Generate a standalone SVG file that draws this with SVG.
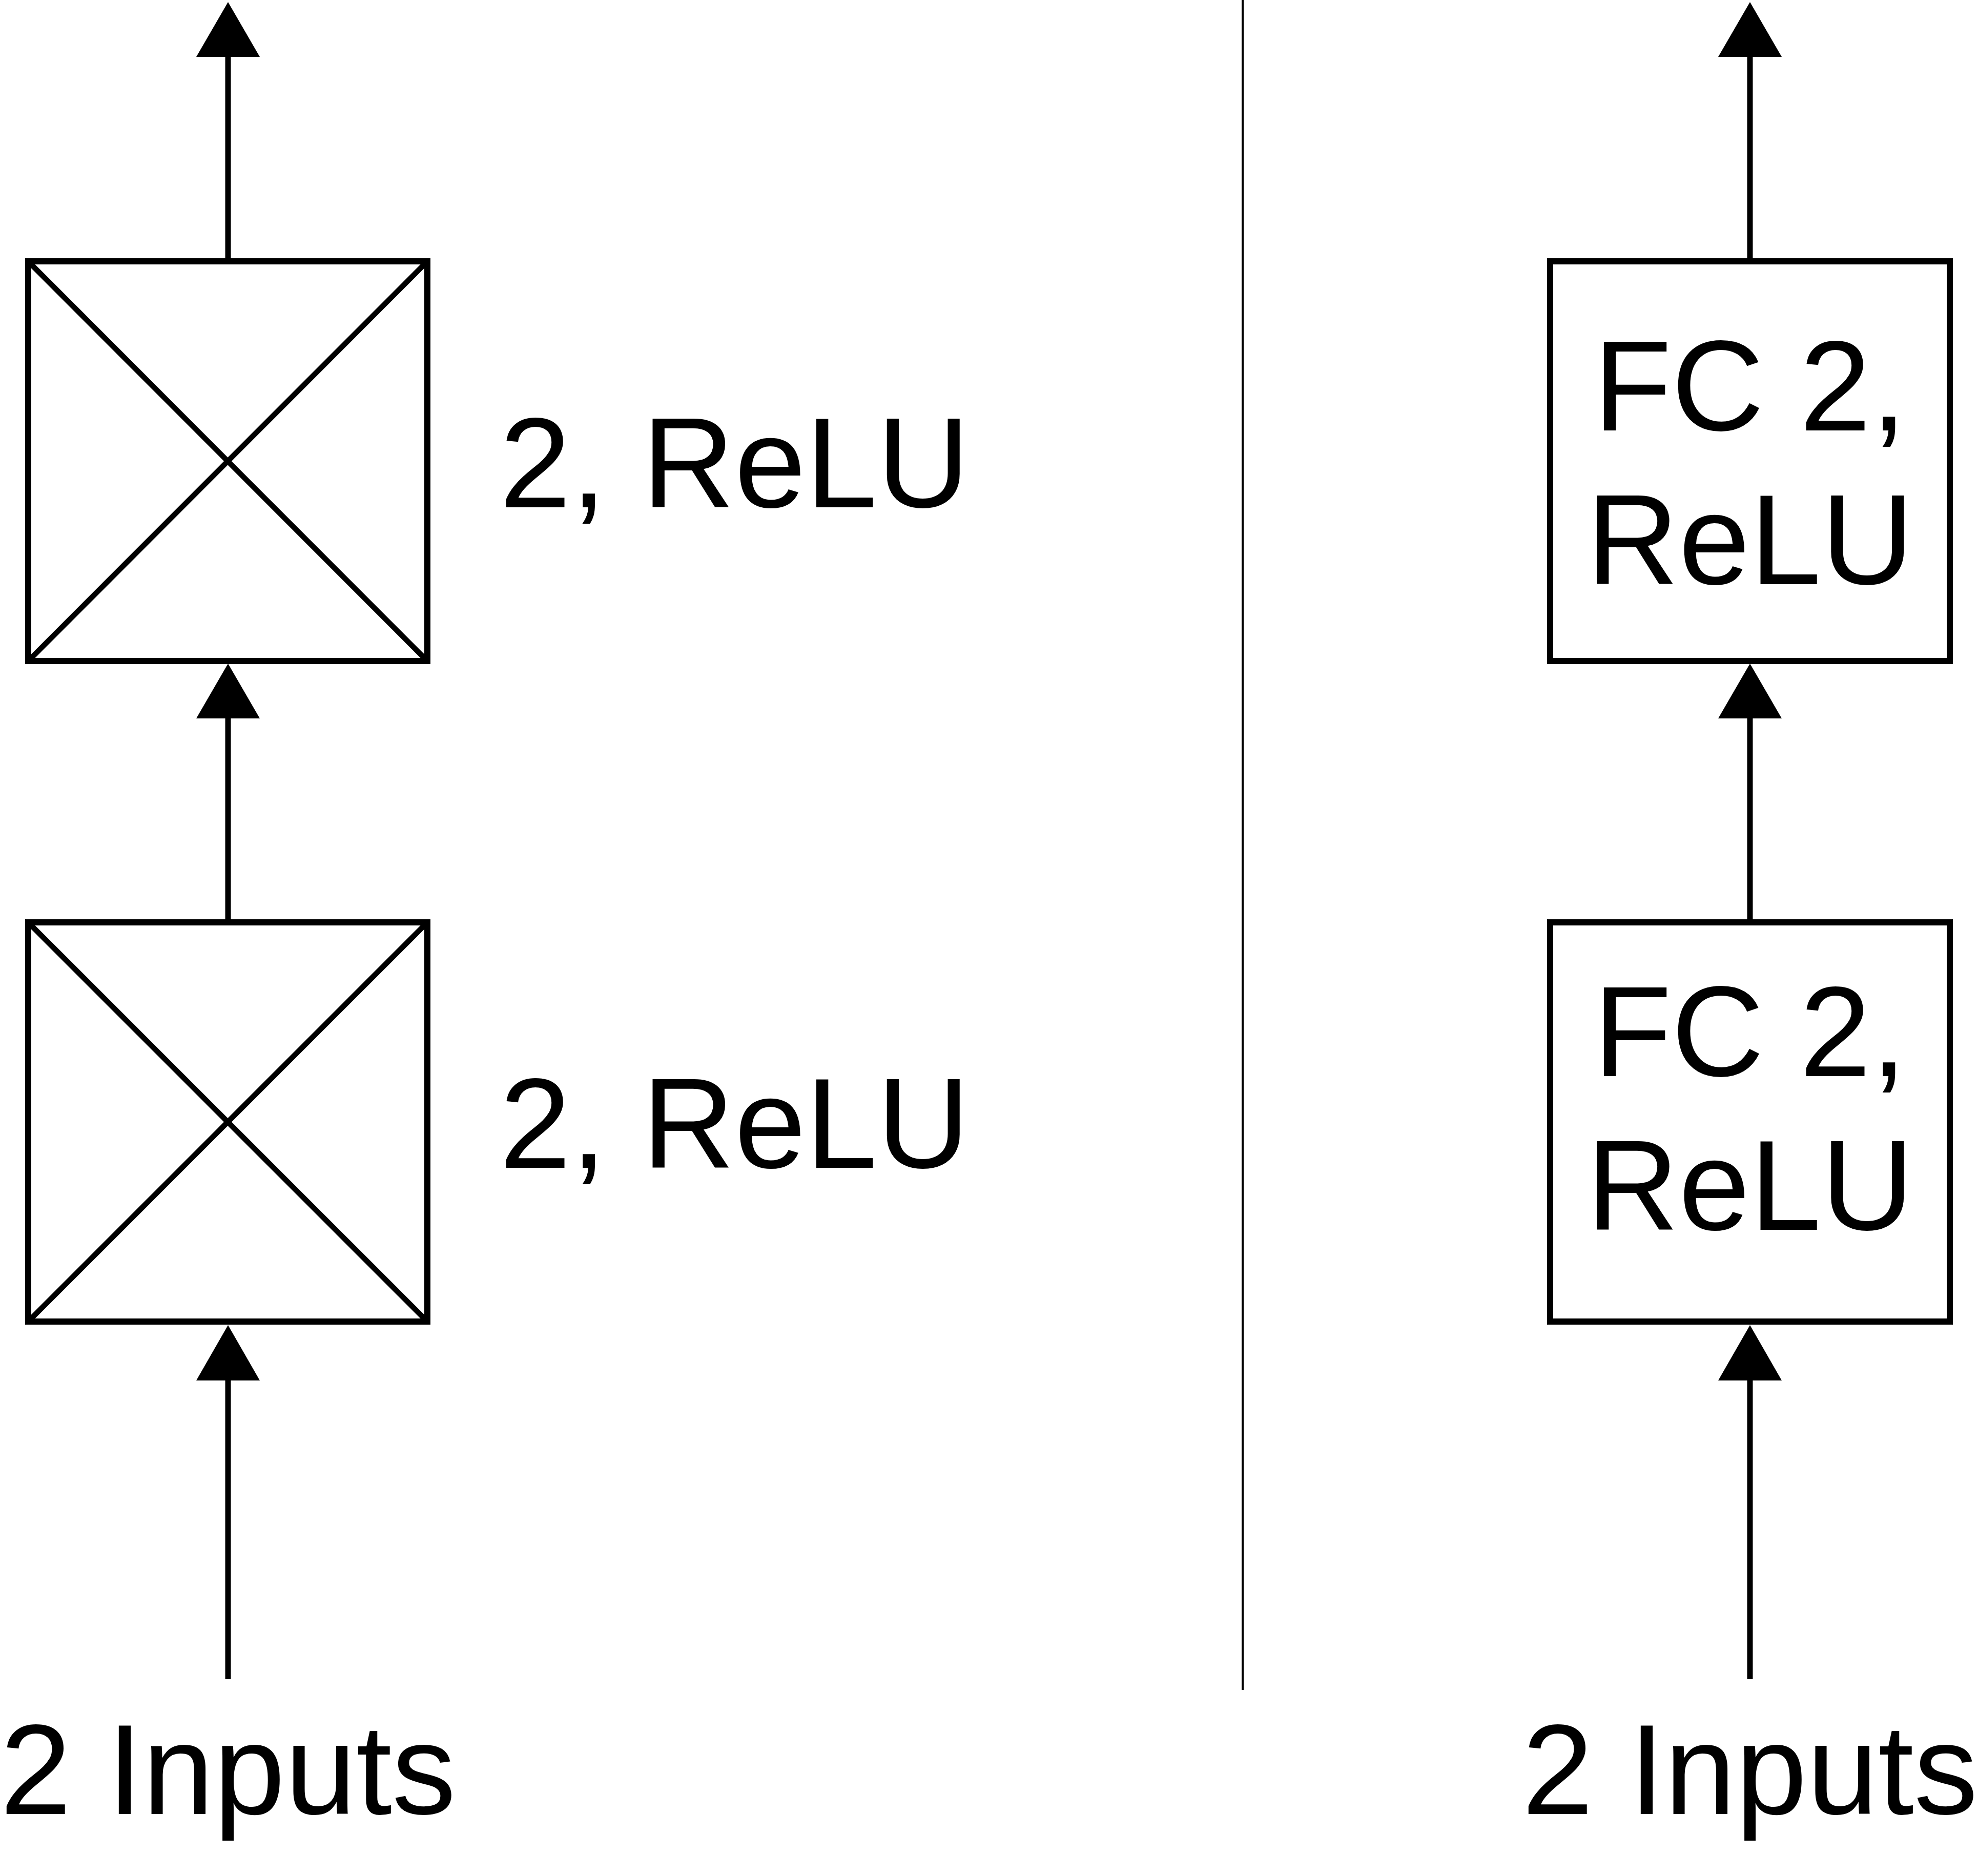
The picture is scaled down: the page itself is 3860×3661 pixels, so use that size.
<svg xmlns="http://www.w3.org/2000/svg" width="3860" height="3661" viewBox="0 0 3860 3661">
<style>
.box{fill:#fff;stroke:#000;stroke-width:12}
.diag{stroke:#000;stroke-width:10.5;fill:none}
.edge{stroke:#000;stroke-width:11;fill:none}
.head{fill:#000;stroke:none}
.lbl{font-family:"Liberation Sans",Arial,Helvetica,sans-serif;font-size:250px;fill:#000}
</style>
<rect width="3860" height="3661" fill="#fff"/>
<line x1="2425" y1="0" x2="2425" y2="3298" stroke="#000" stroke-width="4"/>
<g id="connectors">
  <line class="edge" x1="445" y1="3277" x2="445" y2="2690"/>
  <polygon class="head" points="445,2586 383,2694 507,2694"/>
  <line class="edge" x1="445" y1="1794" x2="445" y2="1398"/>
  <polygon class="head" points="445,1295 383,1402 507,1402"/>
  <line class="edge" x1="445" y1="504" x2="445" y2="107"/>
  <polygon class="head" points="445,4 383,111 507,111"/>
  <line class="edge" x1="3415" y1="3277" x2="3415" y2="2690"/>
  <polygon class="head" points="3415,2586 3353,2694 3477,2694"/>
  <line class="edge" x1="3415" y1="1794" x2="3415" y2="1398"/>
  <polygon class="head" points="3415,1295 3353,1402 3477,1402"/>
  <line class="edge" x1="3415" y1="504" x2="3415" y2="107"/>
  <polygon class="head" points="3415,4 3353,111 3477,111"/>
</g>
<g id="left-top">
  <rect class="box" x="55" y="510" width="779" height="780"/>
  <line class="diag" x1="61" y1="516" x2="828" y2="1284"/>
  <line class="diag" x1="828" y1="516" x2="61" y2="1284"/>
  <text class="lbl" x="975" y="990">2, ReLU</text>
</g>
<g id="left-bottom">
  <rect class="box" x="55" y="1800" width="779" height="779"/>
  <line class="diag" x1="61" y1="1806" x2="828" y2="2573"/>
  <line class="diag" x1="828" y1="1806" x2="61" y2="2573"/>
  <text class="lbl" x="975" y="2279">2, ReLU</text>
</g>
<g id="left-input">
  <text class="lbl" x="445" y="3540" text-anchor="middle">2 Inputs</text>
</g>
<g id="right-top">
  <rect class="box" x="3025" y="510" width="780" height="780"/>
  <text class="lbl" x="3415" y="840" text-anchor="middle">FC 2,</text>
  <text class="lbl" x="3415" y="1140" text-anchor="middle">ReLU</text>
</g>
<g id="right-bottom">
  <rect class="box" x="3025" y="1800" width="780" height="779"/>
  <text class="lbl" x="3415" y="2100" text-anchor="middle">FC 2,</text>
  <text class="lbl" x="3415" y="2400" text-anchor="middle">ReLU</text>
</g>
<g id="right-input">
  <text class="lbl" x="3415" y="3540" text-anchor="middle">2 Inputs</text>
</g>
</svg>
